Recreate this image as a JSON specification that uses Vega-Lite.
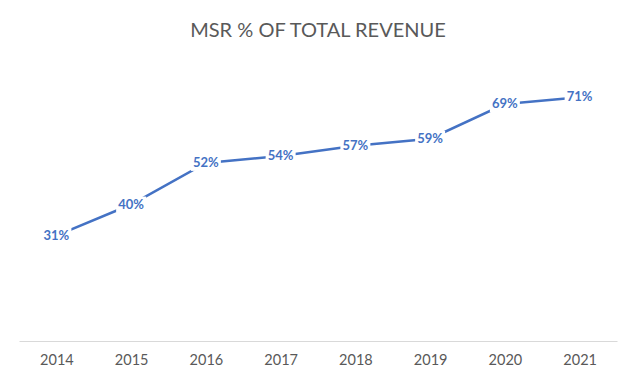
{
  "$schema": "https://vega.github.io/schema/vega-lite/v6.json",
  "autosize": {"type": "none"},
  "padding": {"left": 19, "top": 66, "right": 23, "bottom": 42},
  "width": 598,
  "height": 277,
  "background": "white",
  "title": {
    "text": "MSR % OF TOTAL REVENUE",
    "font": "Lato",
    "fontSize": 20,
    "fontWeight": "normal",
    "color": "#595959",
    "anchor": "middle",
    "offset": 25
  },
  "data": {
    "values": [
      {"year": "2014", "pct": 0.31},
      {"year": "2015", "pct": 0.40},
      {"year": "2016", "pct": 0.52},
      {"year": "2017", "pct": 0.54},
      {"year": "2018", "pct": 0.57},
      {"year": "2019", "pct": 0.59},
      {"year": "2020", "pct": 0.69},
      {"year": "2021", "pct": 0.71}
    ]
  },
  "encoding": {
    "x": {
      "field": "year",
      "type": "ordinal",
      "scale": {"type": "point", "padding": 0.5},
      "axis": {
        "title": null,
        "labelAngle": 0,
        "ticks": false,
        "domainColor": "#d9d9d9",
        "domainWidth": 1,
        "labelFont": "Lato",
        "labelFontSize": 14.5,
        "labelColor": "#595959",
        "labelPadding": 12,
        "offset": -2
      }
    },
    "y": {
      "field": "pct",
      "type": "quantitative",
      "scale": {"domain": [0, 0.8], "nice": false},
      "axis": null
    }
  },
  "layer": [
    {
      "mark": {"type": "line", "color": "#4472C4", "strokeWidth": 2.5}
    },
    {
      "mark": {
        "type": "point",
        "shape": "M-1,-0.53H1V0.53H-1Z",
        "size": 900,
        "filled": true,
        "color": "white",
        "opacity": 1,
        "strokeWidth": 0
      }
    },
    {
      "mark": {
        "type": "text",
        "font": "Lato",
        "fontSize": 13,
        "fontWeight": "bold",
        "color": "#4472C4",
        "baseline": "middle",
        "align": "center"
      },
      "encoding": {
        "text": {"field": "pct", "type": "quantitative", "format": ".0%"}
      }
    }
  ],
  "config": {"view": {"stroke": null}}
}
